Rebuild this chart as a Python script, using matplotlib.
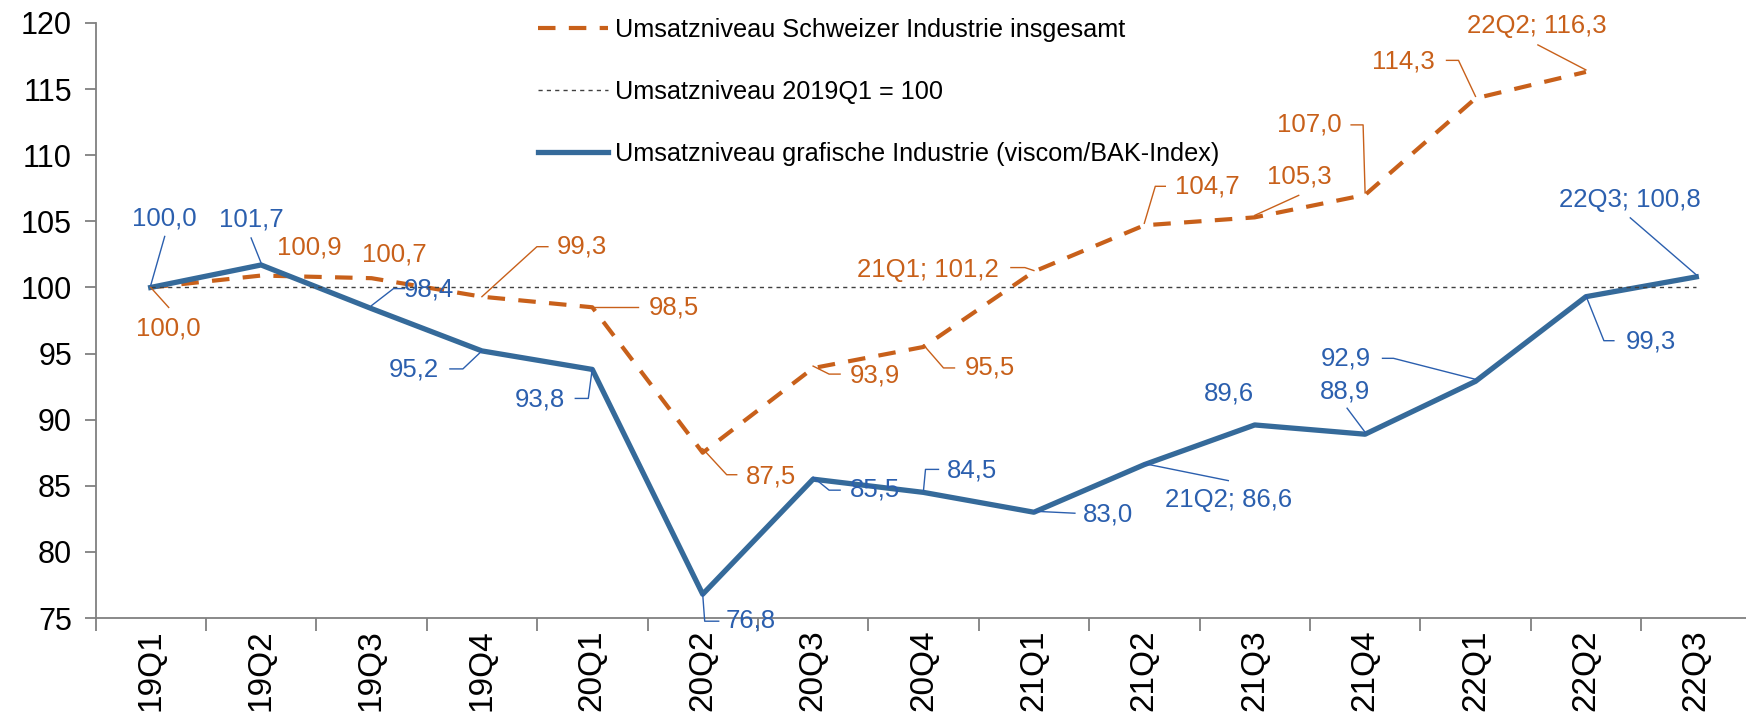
import numpy as np
import matplotlib.pyplot as plt

# ---------------- Daten ----------------
quartale = ['19Q1', '19Q2', '19Q3', '19Q4', '20Q1', '20Q2', '20Q3', '20Q4',
            '21Q1', '21Q2', '21Q3', '21Q4', '22Q1', '22Q2', '22Q3']
schweiz = [100.0, 100.9, 100.7, 99.3, 98.5, 87.5, 93.9, 95.5,
           101.2, 104.7, 105.3, 107.0, 114.3, 116.3]
grafisch = [100.0, 101.7, 98.4, 95.2, 93.8, 76.8, 85.5, 84.5,
            83.0, 86.6, 89.6, 88.9, 92.9, 99.3, 100.8]
basis = 100
# Beschriftungen mit Quartal (wie im Original)
schweiz_mit_quartal = ['21Q1', '22Q2']
grafisch_mit_quartal = ['21Q2', '22Q3']

namen = ['Umsatzniveau Schweizer Industrie insgesamt',
         'Umsatzniveau 2019Q1 = 100',
         'Umsatzniveau grafische Industrie (viscom/BAK-Index)']

orange = '#C8601A'
blau_linie = '#356A9A'
blau_text = '#2B5FAE'

# Label-Offsets in Pixel (dx nach rechts, dy nach unten) + Leader-Knickpunkte
off_schweiz = [
    ((18, 41), [(0, 0), (18, 20)]),
    ((48, -28), None),
    ((23, -24), None),
    ((100, -50), [(0, 0), (55, -50), (66, -50)]),
    ((82, 0), [(0, 0), (46, 0)]),
    ((68, 24), [(0, -4), (24, 22), (34, 22)]),
    ((62, 7), [(0, -2), (16, 6), (27, 6)]),
    ((66, 21), [(0, -2), (20, 21), (31, 21)]),
    ((-106, -2), [(0, -1), (-9, -4), (-23, -4)]),
    ((63, -39), [(0, -2), (11, -39), (21, -39)]),
    ((45, -41), [(0, -2), (44, -22)]),
    ((-56, -70), [(0, -2), (-2, -70), (-14, -70)]),
    ((-72, -37), [(0, -2), (-17, -38), (-29, -38)]),
    ((-49, -46), [(0, -2), (-48, -27)]),
]
off_grafisch = [
    ((14, -69), [(0, -2), (14, -51)]),
    ((-10, -45), [(0, -2), (-10, -27)]),
    ((57, -19), [(0, -3), (22, -20), (33, -20)]),
    ((-68, 19), [(0, 0), (-19, 18), (-32, 18)]),
    ((-52, 30), [(0, -1), (-4, 29), (-17, 29)]),
    ((48, 26), [(0, 0), (2, 27), (16, 27)]),
    ((62, 10), [(0, -2), (16, 11), (27, 11)]),
    ((49, -22), [(0, -2), (2, -23), (15, -23)]),
    ((74, 2), [(0, -1), (41, 1)]),
    ((84, 35), [(0, -1), (84, 16)]),
    ((-26, -31), None),
    ((-20, -43), [(0, -2), (-18, -26)]),
    ((-130, -23), [(0, -2), (-82, -23), (-93, -23)]),
    ((65, 45), [(0, -1), (18, 44), (28, 44)]),
    ((-66, -77), [(0, -2), (-66, -59)]),
]

# ---------------- Figur ----------------
fig = plt.figure(figsize=(17.46, 7.17), dpi=100)
ax = fig.add_axes([95.5 / 1746, 1 - 618 / 717, 1656 / 1746, 595 / 717])

x = np.arange(len(quartale))
xs = x[:len(schweiz)]

l1, = ax.plot(xs, schweiz, color=orange, lw=3.0, ls=(0, (4.2, 3.2)), zorder=2)
l2, = ax.plot(x, [basis] * len(x), color='#404040', lw=1.0, ls=(0, (3, 3)), zorder=4)
l3, = ax.plot(x, grafisch, color=blau_linie, lw=3.8, solid_joinstyle='round', zorder=3)

ax.set_xlim(-0.5, len(quartale) - 0.5)
ax.set_ylim(75, 120)
ax.set_yticks(np.arange(75, 121, 5))
ax.set_xticks(x)
ax.set_xticklabels(quartale, rotation=90, fontsize=24, family='Liberation Sans')
ax.set_xticks(np.arange(-0.5, len(quartale), 1), minor=True)
ax.tick_params(axis='x', which='major', length=0, pad=8)
ax.tick_params(axis='x', which='minor', length=9, width=1.3, color='#808080')
ax.tick_params(axis='y', length=8, width=1.3, color='#808080', labelsize=22, pad=9)
for lab in ax.get_yticklabels():
    lab.set_family('Liberation Sans')
for s in ['top', 'right']:
    ax.spines[s].set_visible(False)
for s in ['left', 'bottom']:
    ax.spines[s].set_color('#808080')
    ax.spines[s].set_linewidth(1.3)

# ---------------- Datenbeschriftungen ----------------
def fmt(v):
    return f'{v:.1f}'.replace('.', ',')

inv = ax.transData.inverted()

def beschriften(werte, offsets, farbe, mit_quartal):
    for i, v in enumerate(werte):
        (dx, dy), leader = offsets[i]
        px, py = ax.transData.transform((x[i], v))
        txt = fmt(v)
        if quartale[i] in mit_quartal:
            txt = f'{quartale[i]}; {txt}'
        tx, ty = inv.transform((px + dx, py - dy))
        ax.text(tx, ty, txt, color=farbe, fontsize=18.5, family='Liberation Sans',
                ha='center', va='center', zorder=5)
        if leader:
            pts = inv.transform([(px + a, py - b) for a, b in leader])
            ax.plot(pts[:, 0], pts[:, 1], color=farbe, lw=1.0, zorder=5, clip_on=False)

beschriften(schweiz, off_schweiz, orange, schweiz_mit_quartal)
beschriften(grafisch, off_grafisch, blau_text, grafisch_mit_quartal)

# ---------------- Legende ----------------
leg = fig.legend([l1, l2, l3], namen, loc='upper left',
                 bbox_to_anchor=(538 / 1746, 1 - 18 / 717), bbox_transform=fig.transFigure,
                 frameon=False, handlelength=2.75, handletextpad=0.3,
                 labelspacing=1.5, borderpad=0, borderaxespad=0,
                 prop={'family': 'Liberation Sans', 'size': 18.2})

fig.savefig('out.png', dpi=100)
